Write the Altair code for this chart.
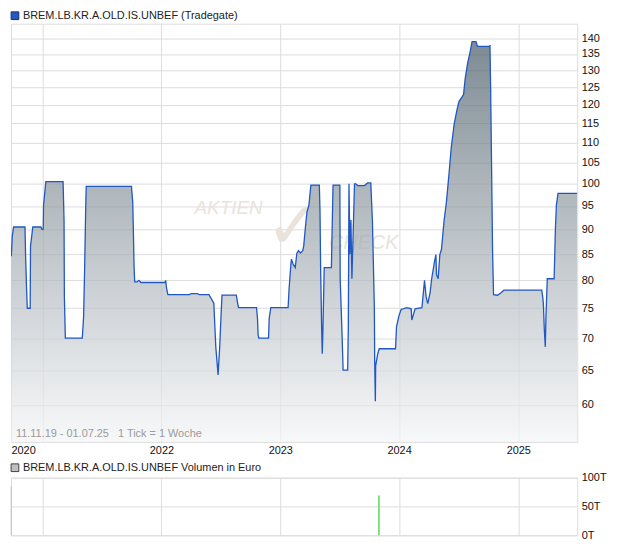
import altair as alt
import pandas as pd

# ---------------- data ----------------
dates = [
    "2020-09-27", "2020-09-30", "2020-10-04", "2020-11-08", "2020-11-10", "2020-11-13", "2020-11-15", "2020-11-24", "2020-11-25", "2020-12-02",
    "2020-12-27", "2020-12-30", "2021-01-03", "2021-01-04", "2021-01-11", "2021-03-05", "2021-03-08", "2021-03-09", "2021-03-12", "2021-05-03",
    "2021-05-07", "2021-05-10", "2021-05-13", "2021-05-15", "2021-10-01", "2021-10-05", "2021-10-07", "2021-10-09", "2021-10-11", "2021-10-18",
    "2021-10-24", "2021-10-30", "2022-01-12", "2022-01-14", "2022-01-17", "2022-01-21", "2022-03-28", "2022-04-03", "2022-04-21", "2022-04-27",
    "2022-05-27", "2022-06-11", "2022-06-15", "2022-06-17", "2022-06-24", "2022-06-29", "2022-07-03", "2022-07-06", "2022-08-19", "2022-08-23",
    "2022-08-26", "2022-10-20", "2022-10-23", "2022-10-25", "2022-10-27", "2022-11-26", "2022-11-28", "2022-12-03", "2023-01-25", "2023-01-28",
    "2023-02-01", "2023-02-04", "2023-02-10", "2023-02-16", "2023-02-21", "2023-02-26", "2023-03-04", "2023-03-11", "2023-03-14", "2023-03-19",
    "2023-03-24", "2023-03-30", "2023-04-05", "2023-05-01", "2023-05-03", "2023-05-05", "2023-05-08", "2023-05-10", "2023-05-12", "2023-05-16",
    "2023-06-07", "2023-06-12", "2023-07-03", "2023-07-04", "2023-07-10", "2023-07-13", "2023-07-27", "2023-07-29", "2023-07-31", "2023-08-03",
    "2023-08-06", "2023-08-09", "2023-08-17", "2023-08-21", "2023-08-27", "2023-09-17", "2023-09-26", "2023-10-06", "2023-10-11", "2023-10-17",
    "2023-10-18", "2023-10-20", "2023-10-21", "2023-10-27", "2023-11-01", "2023-12-21", "2023-12-24", "2023-12-31", "2024-01-07", "2024-01-25",
    "2024-02-07", "2024-02-09", "2024-02-19", "2024-03-11", "2024-03-19", "2024-03-24", "2024-03-29", "2024-04-05", "2024-04-10", "2024-04-18",
    "2024-04-23", "2024-04-25", "2024-04-30", "2024-05-05", "2024-05-10", "2024-05-18", "2024-05-25", "2024-06-01", "2024-06-09", "2024-06-18",
    "2024-06-27", "2024-07-03", "2024-07-13", "2024-07-17", "2024-07-22", "2024-07-30", "2024-08-06", "2024-08-12", "2024-08-24", "2024-08-29",
    "2024-10-05", "2024-10-06", "2024-10-08", "2024-10-11", "2024-10-14", "2024-10-17", "2024-10-29", "2024-11-08", "2024-11-18", "2025-03-14",
    "2025-03-17", "2025-03-19", "2025-03-22", "2025-03-25", "2025-03-27", "2025-03-31", "2025-04-21", "2025-04-23", "2025-04-25", "2025-04-28",
    "2025-05-03", "2025-07-01",
]
prices = [
    84.6, 88.6, 90.5, 90.5, 84.4, 78.3, 75.0, 75.0, 86.6, 90.5,
    90.5, 90.0, 90.0, 95.1, 100.5, 100.5, 91.8, 76.9, 70.0, 70.0,
    73.5, 81.6, 92.8, 99.4, 99.4, 95.7, 89.4, 82.6, 79.7, 79.7,
    80.0, 79.6, 79.6, 80.0, 78.5, 77.4, 77.4, 77.6, 77.6, 77.4,
    77.4, 75.9, 70.9, 68.6, 64.3, 68.6, 73.6, 77.3, 77.3, 75.9,
    75.1, 75.1, 73.3, 70.5, 70.0, 70.0, 73.3, 75.1, 75.1, 78.3,
    81.7, 84.0, 83.0, 82.4, 85.2, 85.7, 85.2, 85.7, 86.6, 90.3,
    93.7, 95.2, 99.7, 99.7, 94.0, 82.0, 72.0, 67.5, 71.4, 82.4,
    82.4, 99.7, 99.7, 80.3, 70.2, 65.0, 65.0, 72.0, 100.0, 85.0,
    92.0, 80.3, 100.0, 100.0, 99.6, 99.6, 100.2, 100.2, 91.8, 75.0,
    66.2, 60.5, 65.7, 67.4, 68.3, 68.3, 71.9, 73.6, 74.8, 75.1,
    74.9, 73.0, 74.9, 75.1, 80.0, 77.0, 75.8, 77.7, 80.3, 83.3,
    84.9, 81.0, 80.3, 84.9, 85.9, 91.8, 95.7, 101.3, 108.6, 114.8,
    118.8, 121.0, 122.3, 123.0, 127.6, 132.5, 135.6, 138.9, 138.9, 137.4,
    137.4, 137.8, 125.2, 103.9, 85.6, 77.4, 77.3, 77.7, 78.2, 78.2,
    77.0, 75.8, 71.3, 68.6, 73.6, 80.3, 80.3, 84.9, 90.2, 95.2,
    97.8, 97.8,
]
vol_dates = ["2020-09-27", "2023-10-31"]
vol_values = [85000, 69000]
vol_kind = ["neutral", "up"]

price_ticks = [60, 65, 70, 75, 80, 85, 90, 95, 100, 105, 110, 115, 120, 125, 130, 135, 140]
price_domain = [55.07, 144.8]
vol_ticks = [0, 50000, 100000]
vol_domain = [0, 100000]

title_top = "BREM.LB.KR.A.OLD.IS.UNBEF (Tradegate)"
title_vol = "BREM.LB.KR.A.OLD.IS.UNBEF Volumen in Euro"
caption = "11.11.19 - 01.07.25\u00a0\u00a0\u00a01 Tick = 1 Woche"

# ---------------- layout / style ----------------
W = 570
H1 = 421
H2 = 58
FONT = "Liberation Sans"
GRID = "#dddddd"
WM = "#e9e3db"

price_df = pd.DataFrame({"date": dates, "price": prices})
vol_df = pd.DataFrame({"date": vol_dates, "volume": vol_values, "kind": vol_kind})


def dt(y, m, d):
    return alt.DateTime(year=y, month=m, date=d, utc=True)


x_domain = [dt(2020, 9, 26), dt(2025, 7, 1)]
x_scale = alt.Scale(type="utc", domain=x_domain)
year_vals = [dt(2020, 9, 26), dt(2021, 1, 1), dt(2022, 1, 1), dt(2023, 1, 1), dt(2024, 1, 1), dt(2025, 1, 1)]

x_axis_top = alt.Axis(
    values=year_vals,
    labelExpr="utcyear(datum.value) == 2021 ? '' : utcFormat(datum.value, '%Y')",
    labelFlush=True,
    labelOverlap=False,
    ticks=False,
    domain=False,
    grid=True,
    gridColor=GRID,
    labelPadding=3,
    labelFontSize=11,
    labelColor="#111111",
    labelFont=FONT,
    title=None,
)
x_axis_vol = alt.Axis(
    values=year_vals,
    labels=False,
    ticks=False,
    domain=False,
    grid=True,
    gridColor=GRID,
    title=None,
)

y_axis_top = alt.Axis(
    orient="right",
    values=price_ticks,
    ticks=False,
    domain=False,
    grid=True,
    gridColor=GRID,
    labelPadding=4,
    labelFontSize=11,
    labelColor="#111111",
    labelFont=FONT,
    labelOverlap=False,
    title=None,
)
y_axis_vol = alt.Axis(
    orient="right",
    values=vol_ticks,
    labelExpr="datum.value / 1000 + 'T'",
    ticks=False,
    domain=False,
    grid=True,
    gridColor=GRID,
    labelPadding=4,
    labelFontSize=11,
    labelColor="#111111",
    labelFont=FONT,
    labelOverlap=False,
    title=None,
)

gradient = alt.Gradient(
    gradient="linear",
    x1=0, x2=0, y1=0, y2=1,
    stops=[
        alt.GradientStop(color="#465966", offset=0),
        alt.GradientStop(color="#8b979e", offset=0.36),
        alt.GradientStop(color="#b3bac0", offset=0.6),
        alt.GradientStop(color="#f4f5f6", offset=1),
    ],
)

area = alt.Chart(price_df).mark_area(
    interpolate="linear",
    color=gradient,
    line={"color": "#1f57c3", "strokeWidth": 1.3},
    clip=True,
).encode(
    x=alt.X("date:T", scale=x_scale, axis=x_axis_top),
    y=alt.Y("price:Q", scale=alt.Scale(type="log", domain=price_domain, nice=False, zero=False), axis=y_axis_top),
    y2=alt.datum(price_domain[0]),
)

one = pd.DataFrame({"t": [""]})

sq_top = alt.Chart(one).mark_square(size=60, filled=True, color="#2456c4", stroke="#1b2f66", strokeWidth=1, opacity=1).encode(
    x=alt.value(4), y=alt.value(-8)
)
txt_top = alt.Chart(pd.DataFrame({"t": [title_top]})).mark_text(
    align="left", baseline="middle", font=FONT, fontSize=11, color="#222222"
).encode(x=alt.value(12), y=alt.value(-8), text="t:N")

cap = alt.Chart(pd.DataFrame({"t": [caption]})).mark_text(
    align="left", baseline="middle", font=FONT, fontSize=11, color="#9a9a9a"
).encode(x=alt.value(5), y=alt.value(H1 - 8), text="t:N")

wm1 = alt.Chart(pd.DataFrame({"t": ["AKTIEN"]})).mark_text(
    align="center", baseline="middle", font=FONT, fontSize=19, fontStyle="italic", color=WM
).encode(x=alt.value(219), y=alt.value(186), text="t:N")
wm2 = alt.Chart(pd.DataFrame({"t": ["CHECK"]})).mark_text(
    align="center", baseline="middle", font=FONT, fontSize=20, fontStyle="italic", color=WM
).encode(x=alt.value(355), y=alt.value(221), text="t:N")
wm3 = alt.Chart(pd.DataFrame({"t": ["\u2713"]})).mark_text(
    align="center", baseline="middle", font="DejaVu Sans", fontSize=66, color=WM
).encode(x=alt.value(284), y=alt.value(206), text="t:N")

top = alt.layer(wm1, wm2, wm3, area, cap, sq_top, txt_top).properties(width=W, height=H1)

vol = alt.Chart(vol_df).mark_rule(strokeWidth=1.2).encode(
    x=alt.X("date:T", scale=x_scale, axis=x_axis_vol),
    y=alt.Y("volume:Q", scale=alt.Scale(domain=vol_domain, nice=False), axis=y_axis_vol),
    y2=alt.datum(0),
    color=alt.Color("kind:N", scale=alt.Scale(domain=["neutral", "up"], range=["#c4c4c4", "#33cc33"]), legend=None),
)
sq_vol = alt.Chart(one).mark_square(size=60, filled=True, color="#c0c0c0", stroke="#444444", strokeWidth=1, opacity=1).encode(
    x=alt.value(4), y=alt.value(-10)
)
txt_vol = alt.Chart(pd.DataFrame({"t": [title_vol]})).mark_text(
    align="left", baseline="middle", font=FONT, fontSize=11, color="#222222"
).encode(x=alt.value(12), y=alt.value(-10), text="t:N")

bottom = alt.layer(vol, sq_vol, txt_vol).properties(width=W, height=H2)

chart = alt.vconcat(top, bottom, spacing=36, bounds="flush").properties(
    padding={"left": 0, "top": -1, "right": 5, "bottom": 0}
).configure_view(stroke="#d4d4d4", strokeWidth=1).configure(font=FONT, background="white")

chart.save("out.html", embed_options={"renderer": "svg", "actions": False})
